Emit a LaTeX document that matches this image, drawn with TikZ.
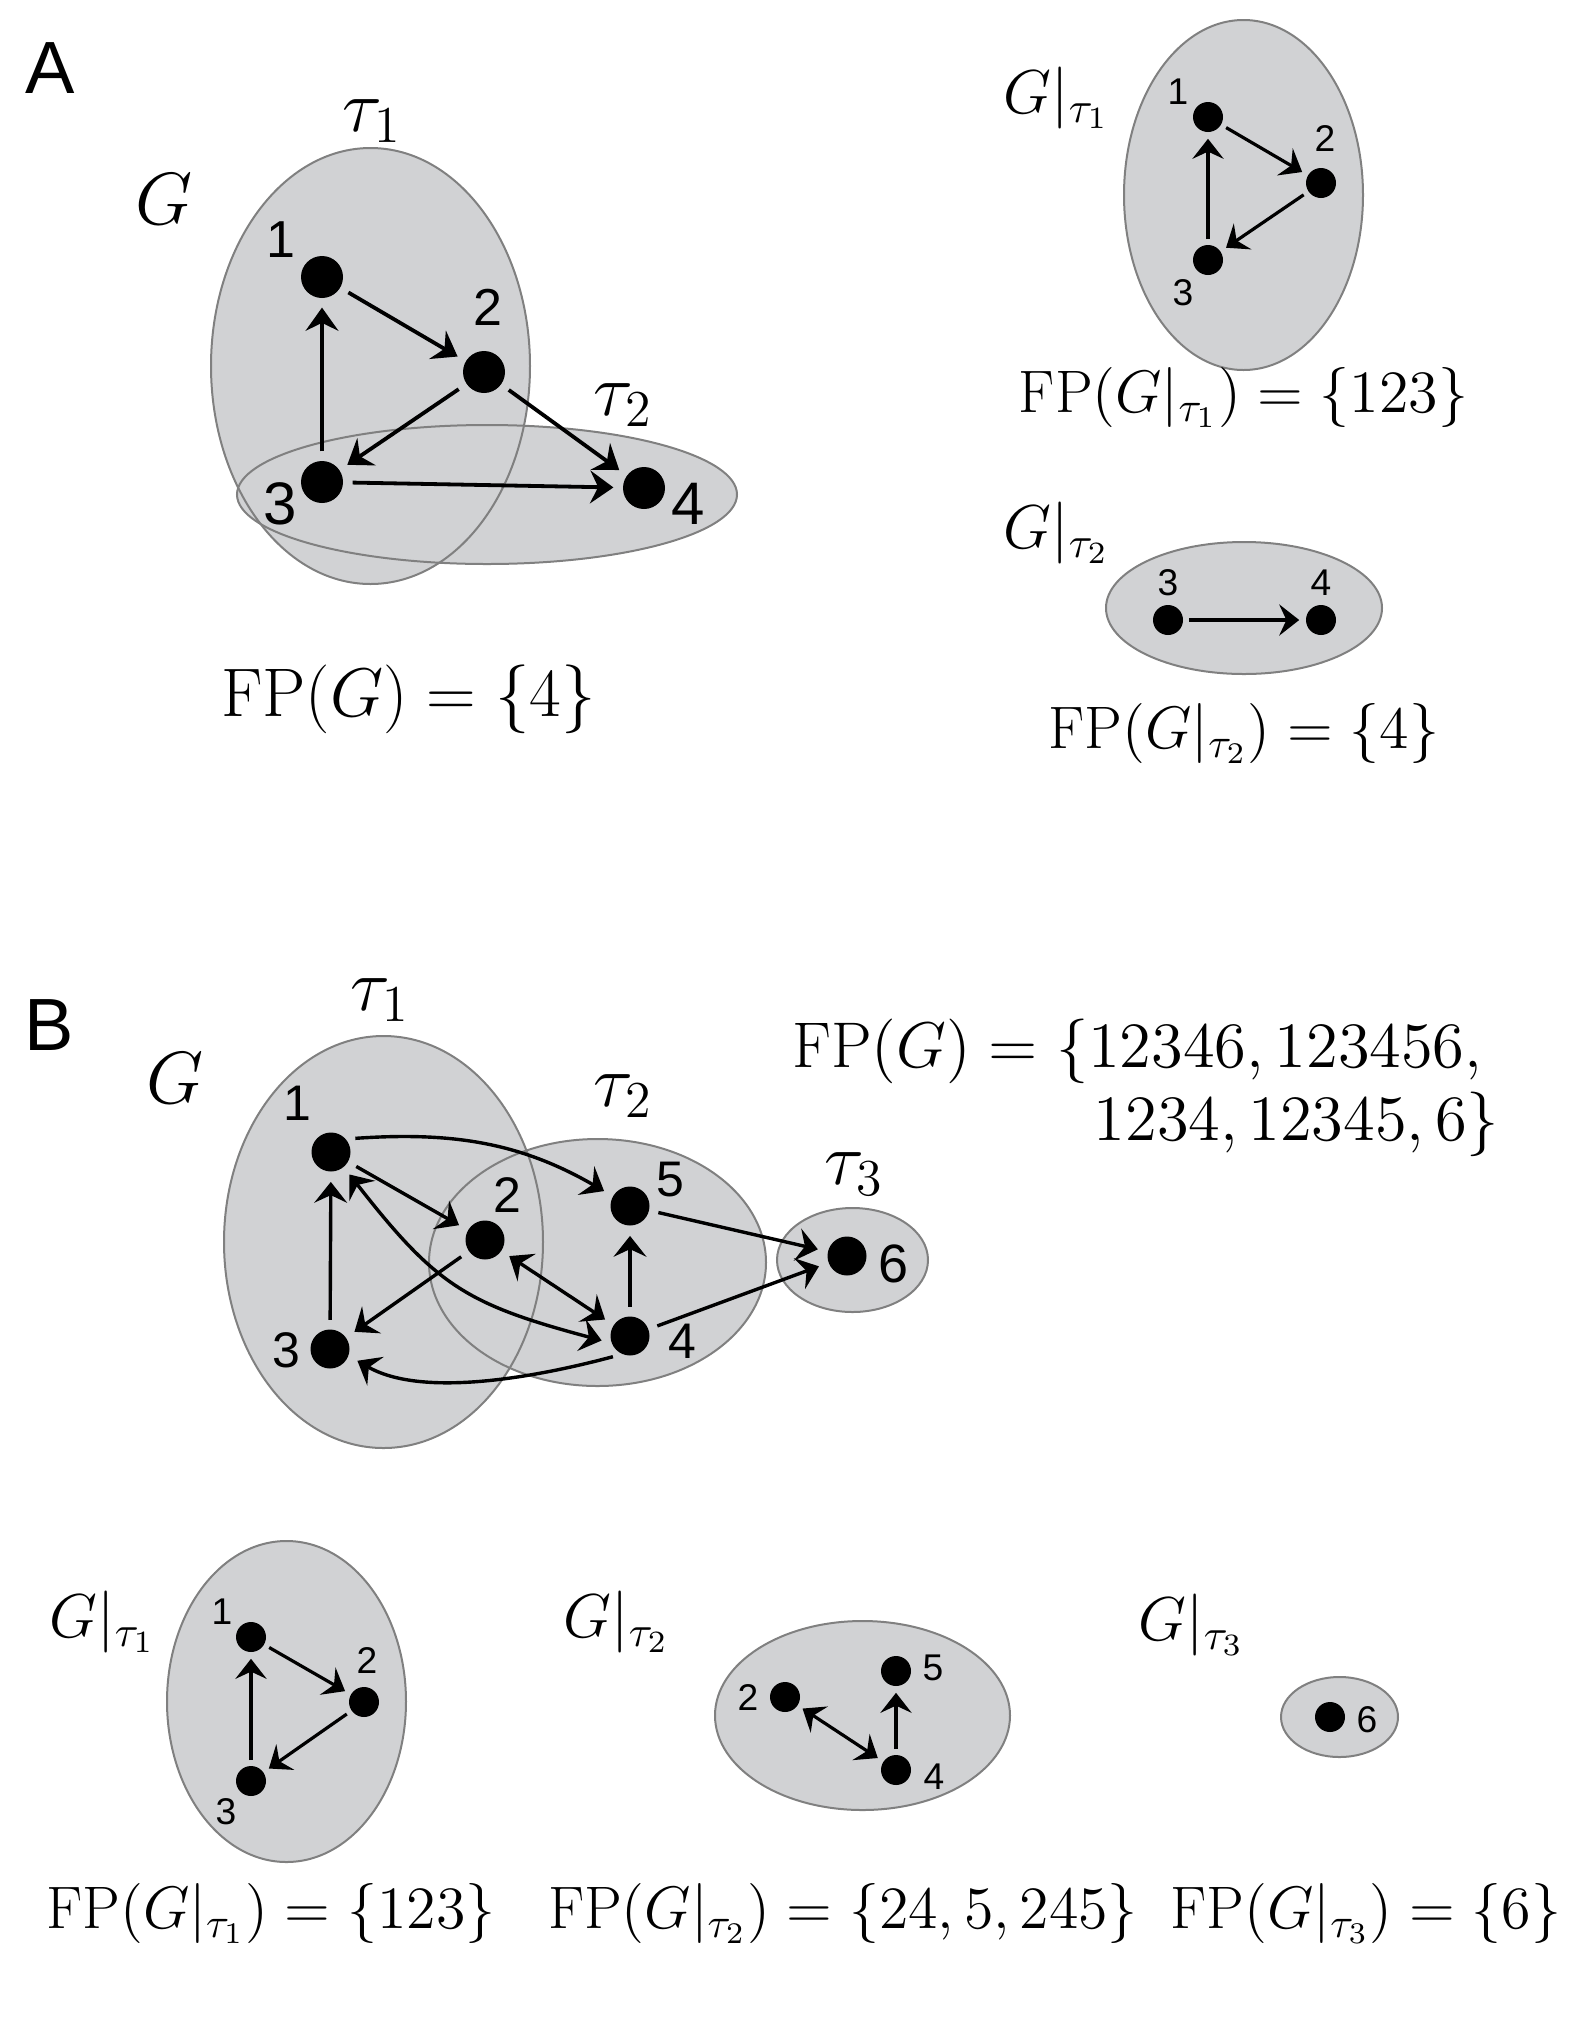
\RequirePackage{fix-cm}
\documentclass[tikz,border=0pt]{standalone}
\usepackage{fontspec}
\newfontfamily\hv{Liberation Sans}
\usetikzlibrary{arrows.meta}
\definecolor{setgray}{RGB}{209,210,212}
\definecolor{setborder}{RGB}{128,128,128}
\tikzset{
  setedge/.style={draw=setborder, line width=0.5pt},
  dotA/.style={circle, fill=black, inner sep=0pt, minimum size=10.5pt},
  dotB/.style={circle, fill=black, inner sep=0pt, minimum size=9.75pt},
  dotS/.style={circle, fill=black, inner sep=0pt, minimum size=7.5pt},
  arrA/.style={line width=0.95pt, >={Stealth[length=5.8pt,width=8.2pt,inset=2pt]}, shorten <=2.2pt, shorten >=2.2pt},
  arrB/.style={line width=0.85pt, >={Stealth[length=5.2pt,width=8.2pt,inset=1.9pt]}, shorten <=2.2pt, shorten >=2.4pt},
  arrS/.style={line width=0.8pt, >={Stealth[length=5pt,width=7.8pt,inset=1.8pt]}, shorten <=1.3pt, shorten >=1.5pt},
  panel/.style={font=\hv\fontsize{18.5}{22}\selectfont, inner sep=0pt},
  numA/.style={font=\hv\fontsize{13}{15}\selectfont, inner sep=0pt},
  numAb/.style={font=\hv\fontsize{15}{17}\selectfont, inner sep=0pt},
  numB/.style={font=\hv\fontsize{12.5}{15}\selectfont, inner sep=0pt},
  numS/.style={font=\hv\fontsize{9.3}{11}\selectfont, inner sep=0pt},
  bigmath/.style={font=\fontsize{18.5}{22}\selectfont, inner sep=0pt},
  fpbigA/.style={font=\fontsize{17.2}{20}\selectfont, inner sep=0pt},
  fpbig/.style={font=\fontsize{16.15}{19}\selectfont, inner sep=0pt},
  fpsmall/.style={font=\fontsize{15}{17}\selectfont, inner sep=0pt},
  restr/.style={font=\fontsize{15.5}{18}\selectfont, inner sep=0pt}
}
\begin{document}
\begin{tikzpicture}[x=0.25pt,y=0.25pt]
\useasboundingbox (0,0) rectangle (1578,-2035);

% ---------------- Panel A ----------------
\node[panel] (labA) at (50,-68) {A};
\node[bigmath, anchor=base] (GA) at (164,-224) {$G$};

\fill[setgray] (370.5,-366) ellipse [x radius=159.5, y radius=218];
\fill[setgray] (487,-494.5) ellipse [x radius=250, y radius=69.5];
\draw[setedge] (370.5,-366) ellipse [x radius=159.5, y radius=218];
\draw[setedge] (487,-494.5) ellipse [x radius=250, y radius=69.5];

\node[bigmath] (tauA1) at (372,-121) {$\tau_1$};
\node[bigmath] (tauA2) at (623,-405) {$\tau_2$};

\node[dotA] (a1) at (322,-277) {};
\node[dotA] (a2) at (484,-372) {};
\node[dotA] (a3) at (322,-482) {};
\node[dotA] (a4) at (644,-488) {};
\node[numA] (a1l) at (281,-240) {1};
\node[numA] (a2l) at (488,-307) {2};
\node[numAb] (a3l) at (280,-504) {3};
\node[numAb] (a4l) at (688,-504) {4};

\draw[arrA,->] (a1) -- (a2);
\draw[arrA,->] (a2) -- (a3);
\draw[arrA,->] (a2) -- (a4);
\draw[arrA,->] (a3) -- (a1);
\draw[arrA,->] (a3) -- (a4);

\node[fpbigA, anchor=base] (fpA) at (408.5,-716) {$\mathrm{FP}(G) = \{4\}$};

% right: G|tau1
\node[restr, anchor=base west] (GAt1) at (1003,-113) {$G|_{\tau_1}$};
\fill[setgray] (1243.5,-195) ellipse [x radius=119.5, y radius=175];
\draw[setedge] (1243.5,-195) ellipse [x radius=119.5, y radius=175];
\node[dotS] (s1) at (1208,-117) {};
\node[dotS] (s2) at (1321,-183) {};
\node[dotS] (s3) at (1208,-260) {};
\node[numS] (s1l) at (1178,-92) {1};
\node[numS] (s2l) at (1325,-139) {2};
\node[numS] (s3l) at (1183,-293) {3};
\draw[arrS,->] (s1) -- (s2);
\draw[arrS,->] (s2) -- (s3);
\draw[arrS,->] (s3) -- (s1);
\node[fpsmall, anchor=base] (fpAt1) at (1243.5,-412) {$\mathrm{FP}(G|_{\tau_1}) = \{123\}$};

% right: G|tau2
\node[restr, anchor=base west] (GAt2) at (1003,-548) {$G|_{\tau_2}$};
\fill[setgray] (1244,-608) ellipse [x radius=138, y radius=66];
\draw[setedge] (1244,-608) ellipse [x radius=138, y radius=66];
\node[dotS] (t3) at (1168,-620) {};
\node[dotS] (t4) at (1321,-620) {};
\node[numS] (t3l) at (1168,-583) {3};
\node[numS] (t4l) at (1321,-583) {4};
\draw[arrS,->] (t3) -- (t4);
\node[fpsmall, anchor=base] (fpAt2) at (1244,-748) {$\mathrm{FP}(G|_{\tau_2}) = \{4\}$};

% ---------------- Panel B ----------------
\node[panel] (labB) at (49,-1025) {B};
\node[bigmath, anchor=base] (GB) at (175,-1103) {$G$};

\fill[setgray] (383.5,-1242) ellipse [x radius=159.5, y radius=206];
\fill[setgray] (597.5,-1262.5) ellipse [x radius=168.5, y radius=123.5];
\fill[setgray] (852.5,-1260) ellipse [x radius=75.5, y radius=52];
\draw[setedge] (383.5,-1242) ellipse [x radius=159.5, y radius=206];
\draw[setedge] (597.5,-1262.5) ellipse [x radius=168.5, y radius=123.5];
\draw[setedge] (852.5,-1260) ellipse [x radius=75.5, y radius=52];

\node[bigmath] (tauB1) at (380,-1000) {$\tau_1$};
\node[bigmath] (tauB2) at (623,-1096) {$\tau_2$};
\node[bigmath] (tauB3) at (854,-1174) {$\tau_3$};

\node[dotB] (b1) at (331,-1152) {};
\node[dotB] (b2) at (485,-1240) {};
\node[dotB] (b3) at (330,-1349) {};
\node[dotB] (b4) at (630,-1336) {};
\node[dotB] (b5) at (630,-1206) {};
\node[dotB] (b6) at (847,-1256) {};
\node[numB] (b1l) at (297,-1103) {1};
\node[numB] (b2l) at (507,-1195) {2};
\node[numB] (b3l) at (286,-1350) {3};
\node[numB] (b4l) at (682,-1341) {4};
\node[numB] (b5l) at (670,-1180) {5};
\node[numB, font=\hv\fontsize{13.5}{15}\selectfont] (b6l) at (894,-1264) {6};

\draw[arrB,->] (b1) -- (b2);
\draw[arrB,->] (b1.40) to[out=4, in=150] (b5);
\draw[arrB,<->] (b1.-50) to[out=-52, in=165, looseness=1.2] (b4.200);
\draw[arrB,->] (b2) -- (b3);
\draw[arrB,<->] (b2) -- (b4);
\draw[arrB,->] (b3) -- (b1);
\draw[arrB,->] (b4.245) to[out=195, in=-30, looseness=0.8] (b3.-20);
\draw[arrB,->] (b4) -- (b5);
\draw[arrB,->] (b5) -- (b6);
\draw[arrB,->] (b4) -- (b6);

\node[fpbig, anchor=base east] (fpB1) at (1483,-1067) {$\mathrm{FP}(G) = \{12346, 123456,$};
\node[fpbig, anchor=base east] (fpB2) at (1500,-1140) {$1234, 12345, 6\}$};

% bottom: G|tau1
\node[restr, anchor=base west] (GBt1) at (49,-1637) {$G|_{\tau_1}$};
\fill[setgray] (286.5,-1701.5) ellipse [x radius=119.5, y radius=160.5];
\draw[setedge] (286.5,-1701.5) ellipse [x radius=119.5, y radius=160.5];
\node[dotS] (p1) at (251,-1637) {};
\node[dotS] (p2) at (364,-1702) {};
\node[dotS] (p3) at (251,-1781) {};
\node[numS] (p1l) at (222,-1612) {1};
\node[numS] (p2l) at (367,-1660) {2};
\node[numS] (p3l) at (226,-1812) {3};
\draw[arrS,->] (p1) -- (p2);
\draw[arrS,->] (p2) -- (p3);
\draw[arrS,->] (p3) -- (p1);
\node[fpsmall, anchor=base] (fpBt1) at (271,-1928) {$\mathrm{FP}(G|_{\tau_1}) = \{123\}$};

% bottom: G|tau2
\node[restr, anchor=base west] (GBt2) at (563,-1637) {$G|_{\tau_2}$};
\fill[setgray] (862.5,-1715.5) ellipse [x radius=147.5, y radius=94.5];
\draw[setedge] (862.5,-1715.5) ellipse [x radius=147.5, y radius=94.5];
\node[dotS] (q2) at (785,-1697) {};
\node[dotS] (q5) at (896,-1671) {};
\node[dotS] (q4) at (896,-1770) {};
\node[numS] (q2l) at (748,-1697) {2};
\node[numS] (q5l) at (933,-1668) {5};
\node[numS] (q4l) at (934,-1777) {4};
\draw[arrS,<->] (q2) -- (q4);
\draw[arrS,->] (q4) -- (q5);
\node[fpsmall, anchor=base] (fpBt2) at (843,-1928) {$\mathrm{FP}(G|_{\tau_2}) = \{24, 5, 245\}$};

% bottom: G|tau3
\node[restr, anchor=base west] (GBt3) at (1138,-1640) {$G|_{\tau_3}$};
\fill[setgray] (1339.5,-1717) ellipse [x radius=58.5, y radius=40];
\draw[setedge] (1339.5,-1717) ellipse [x radius=58.5, y radius=40];
\node[dotS] (r6) at (1330,-1717) {};
\node[numS] (r6l) at (1367,-1720) {6};
\node[fpsmall, anchor=base] (fpBt3) at (1366,-1928) {$\mathrm{FP}(G|_{\tau_3}) = \{6\}$};
\end{tikzpicture}
\end{document}
